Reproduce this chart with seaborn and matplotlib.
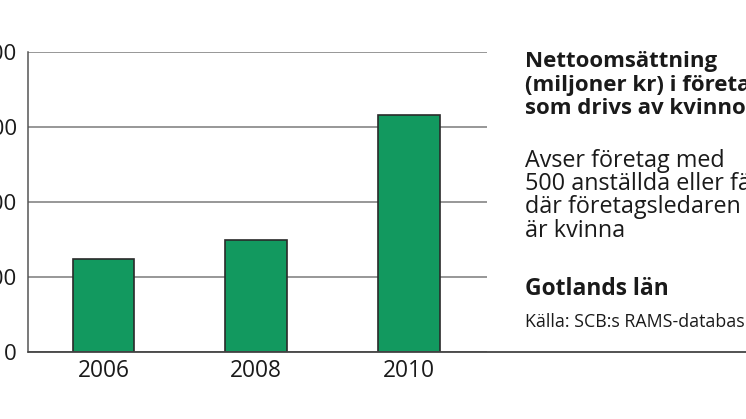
import matplotlib.pyplot as plt
from matplotlib.lines import Line2D
import pandas as pd
import seaborn as sns

# data
years = ['2006', '2008', '2010']
turnover = [124, 150, 316]
y_ticks = [0, 100, 200, 300, 400]

title_lines = ['Nettoomsättning', '(miljoner kr) i företag', 'som drivs av kvinnor']
note_lines = ['Avser företag med', '500 anställda eller färre', 'där företagsledaren', 'är kvinna']
region = 'Gotlands län'
source = 'Källa: SCB:s RAMS-databas'

sns.set_theme(style='white')
plt.rcParams['font.family'] = ['Open Sans', 'DejaVu Sans']

df = pd.DataFrame({'year': years, 'value': turnover})

W, H = 746, 419
fig = plt.figure(figsize=(W / 100, H / 100), dpi=100)
ax = fig.add_axes([28 / W, 1 - 352 / H, (487 - 28) / W, (352 - 52) / H])

sns.barplot(data=df, x='year', y='value', color='#12995f', saturation=1,
            width=0.405, edgecolor='#2a2a2a', linewidth=1.2, ax=ax, zorder=3)

ax.set_xlim(-0.494, 2.51)
ax.set_ylim(0, 400)
ax.set_yticks(y_ticks)
ax.yaxis.grid(True, color='#7a7a7a', linewidth=1.1, zorder=0)
ax.set_axisbelow(True)
ax.set_xlabel('')
ax.set_ylabel('')
ax.tick_params(axis='y', length=0, pad=8, labelsize=16, labelcolor='#1a1a1a')
ax.tick_params(axis='x', length=0, pad=5, labelsize=16.4, labelcolor='#1a1a1a')

for s in ['top', 'right', 'bottom']:
    ax.spines[s].set_visible(False)
ax.spines['left'].set_color('#555555')
ax.spines['left'].set_linewidth(1.1)

# baseline running out to the right edge
fig.add_artist(Line2D([28 / W, 1], [1 - 352 / H] * 2, color='#444444', linewidth=1.3))

tx = 525 / W
for i, line in enumerate(title_lines):
    fig.text(tx, 1 - (67 + 23.5 * i) / H, line, fontsize=16, fontweight='bold',
             color='#1a1a1a', va='baseline')
for i, line in enumerate(note_lines):
    fig.text(tx, 1 - (167 + 23.2 * i) / H, line, fontsize=16.8, color='#1a1a1a', va='baseline')
fig.text(tx, 1 - 295 / H, region, fontsize=16.4, fontweight='bold', color='#1a1a1a', va='baseline')
fig.text(tx, 1 - 327 / H, source, fontsize=12.8, color='#1a1a1a', va='baseline')

fig.savefig('out.png', dpi=100)
